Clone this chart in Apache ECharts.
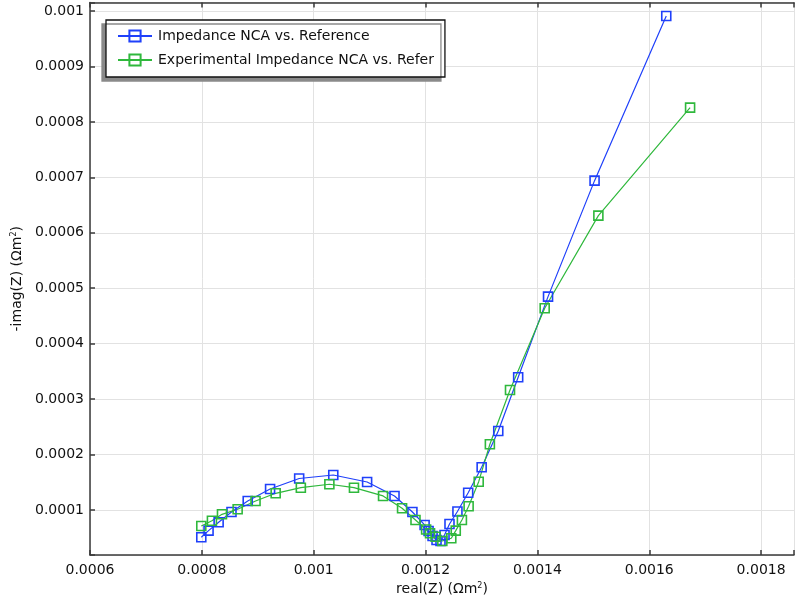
<!DOCTYPE html>
<html>
<head>
<meta charset="utf-8">
<script src="https://cdn.jsdelivr.net/npm/echarts@6/dist/echarts.min.js"></script>
<style>
html,body{margin:0;padding:0;background:#fff;}
#chart{width:797px;height:601px;}
</style>
</head>
<body>
<div id="chart"></div>
<script>
// Series names
const seriesNames = ['Impedance NCA vs. Reference', 'Experimental Impedance NCA vs. Refer'];

// Simulated impedance: real(Z), -imag(Z)
const simReal = [0.000799, 0.000812, 0.000830, 0.000853, 0.000882, 0.000922, 0.000974, 0.001035, 0.0010955, 0.0011445,
  0.0011765, 0.0011983, 0.0012054, 0.0012125, 0.0012196, 0.0012267, 0.0012339, 0.0012428, 0.001257, 0.0012762,
  0.0013003, 0.00133, 0.0013656, 0.001419, 0.0015022, 0.0016304];
const simImag = [0.0000508, 0.0000627, 0.0000778, 0.0000964, 0.0001162, 0.0001379, 0.0001568, 0.0001631, 0.0001505, 0.0001253,
  0.0000964, 0.000073, 0.0000621, 0.0000531, 0.0000459, 0.0000441, 0.0000549, 0.0000747, 0.0000973, 0.0001312,
  0.000177, 0.0002425, 0.0003394, 0.0004848, 0.000694, 0.000991];

// Experimental impedance: real(Z), -imag(Z)
const expReal = [0.000799, 0.000818, 0.000836, 0.000864, 0.000896, 0.000932, 0.000977, 0.001028, 0.001072, 0.001124,
  0.001158, 0.001182, 0.001201, 0.001208, 0.001218, 0.00123, 0.001246, 0.001254, 0.001265, 0.001277,
  0.001295, 0.001315, 0.001351, 0.001413, 0.001509, 0.001673];
const expImag = [0.0000711, 0.0000807, 0.0000922, 0.0001013, 0.0001162, 0.0001301, 0.0001402, 0.0001464, 0.0001402, 0.0001253,
  0.0001031, 0.000082, 0.0000648, 0.000058, 0.0000518, 0.0000441, 0.000049, 0.0000627, 0.000082, 0.0001067,
  0.000151, 0.0002185, 0.0003165, 0.0004638, 0.0006309, 0.0008257];

// Axis settings
const xMin = 0.0006, xMax = 0.0018588, xStep = 0.0002;
const yMin = 0.0000188, yMax = 0.0010153, yStep = 0.0001;

const colors = ['#1f40fa', '#2fb83c'];
const FONT = 'DejaVu Sans';

function pairs(xs, ys) { return xs.map((x, i) => [x, ys[i]]); }
function tickFmt(step) {
  return function (v) {
    const r = v / step;
    if (Math.abs(r - Math.round(r)) > 1e-6) return '';
    return String(parseFloat(v.toPrecision(8)));
  };
}

const chart = echarts.init(document.getElementById('chart'), null, {renderer: 'canvas'});
const axisLine = {show: true, lineStyle: {color: '#3a3a3a', width: 1.5}};
const option = {
  animation: false,
  backgroundColor: '#fff',
  grid: {left: 90, right: 0, top: 2.5, bottom: 46, containLabel: false},
  legend: {
    left: 106, top: 20, orient: 'vertical',
    padding: [9, 11, 10, 11],
    itemGap: 10, itemWidth: 34, itemHeight: 14,
    backgroundColor: '#fff', borderColor: '#111', borderWidth: 1.3,
    shadowColor: '#8a8a8a', shadowBlur: 0, shadowOffsetX: -4, shadowOffsetY: 4,
    textStyle: {fontFamily: FONT, fontSize: 14, color: '#111', padding: [0, 0, 0, 1]},
    data: seriesNames
  },
  xAxis: [{
    type: 'value', min: xMin, max: xMax, minInterval: xStep, maxInterval: xStep,
    name: 'real(Z) (Ωm{sup|2})', nameLocation: 'middle', nameGap: 25,
    nameTextStyle: {fontFamily: FONT, fontSize: 14, color: '#111',
      rich: {sup: {fontFamily: FONT, fontSize: 8, verticalAlign: 'top', color: '#111', padding: [0, 0, 6, 0]}}},
    axisLine: axisLine,
    axisTick: {show: true, inside: true, length: 5, lineStyle: {color: '#3a3a3a', width: 1.5}},
    axisLabel: {fontFamily: FONT, fontSize: 14, color: '#111', margin: 8, formatter: tickFmt(xStep)},
    splitLine: {show: true, lineStyle: {color: '#e2e2e2', width: 1}}
  }, {
    type: 'value', position: 'top', min: xMin, max: xMax, minInterval: xStep, maxInterval: xStep,
    axisLine: axisLine,
    axisTick: {show: true, inside: true, length: 5, lineStyle: {color: '#3a3a3a', width: 1.5}},
    axisLabel: {show: false}, splitLine: {show: false}
  }],
  yAxis: [{
    type: 'value', min: yMin, max: yMax, minInterval: yStep, maxInterval: yStep,
    name: '-imag(Z) (Ωm{sup|2})', nameLocation: 'middle', nameGap: 66, nameRotate: 90,
    nameTextStyle: {fontFamily: FONT, fontSize: 14, color: '#111',
      rich: {sup: {fontFamily: FONT, fontSize: 8, verticalAlign: 'top', color: '#111', padding: [0, 0, 6, 0]}}},
    axisLine: axisLine,
    axisTick: {show: true, inside: true, length: 5, lineStyle: {color: '#3a3a3a', width: 1.5}},
    axisLabel: {fontFamily: FONT, fontSize: 14, color: '#111', margin: 6, formatter: tickFmt(yStep)},
    splitLine: {show: true, lineStyle: {color: '#e2e2e2', width: 1}}
  }],
  series: [{
    name: seriesNames[0], type: 'line', data: pairs(simReal, simImag),
    symbol: 'rect', symbolSize: 9, showAllSymbol: true,
    lineStyle: {color: colors[0], width: 1.2},
    itemStyle: {color: 'rgba(0,0,0,0)', borderColor: colors[0], borderWidth: 1.6}
  }, {
    name: seriesNames[1], type: 'line', data: pairs(expReal, expImag),
    symbol: 'rect', symbolSize: 9, showAllSymbol: true,
    lineStyle: {color: colors[1], width: 1.2},
    itemStyle: {color: 'rgba(0,0,0,0)', borderColor: colors[1], borderWidth: 1.6}
  }]
};
chart.setOption(option);
</script>
</body>
</html>
